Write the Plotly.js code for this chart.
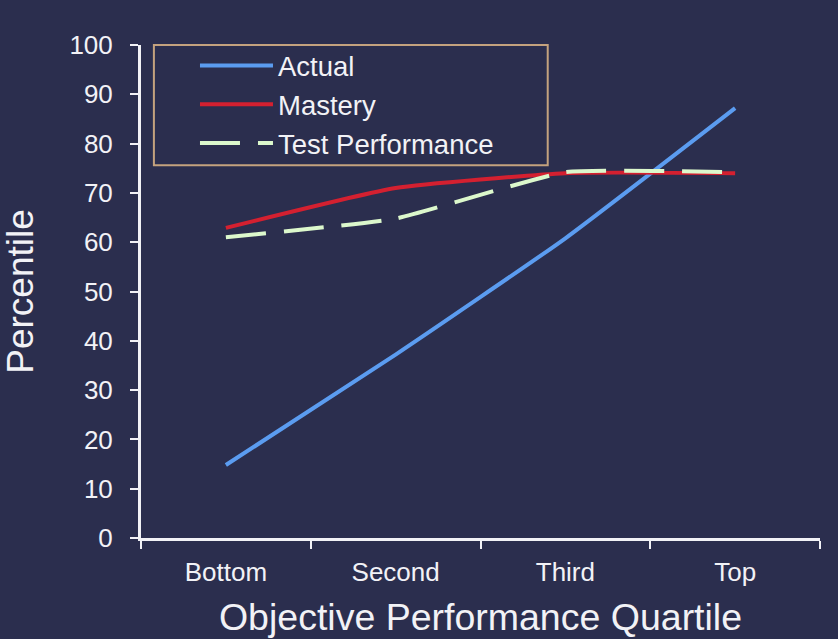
<!DOCTYPE html>
<html>
<head>
<meta charset="utf-8">
<script src="https://cdn.plot.ly/plotly-3.0.1.min.js"></script>
<style>
html,body{margin:0;padding:0;background:#2b2e4e;}
#chart{width:838px;height:639px;}
</style>
</head>
<body>
<div id="chart"></div>
<script>
const categories = ["Bottom", "Second", "Third", "Top"];
const actual = [14.8, 37.2, 60.8, 87.2];
const mastery = [62.9, 71.0, 74.0, 74.0];
const testPerformance = [61.0, 64.8, 74.2, 74.2];
const yTicks = [0, 10, 20, 30, 40, 50, 60, 70, 80, 90, 100];

const FONT = "Liberation Sans, Arial, sans-serif";
const WHITE = "#f2f2f6";

const traces = [
  {x: categories, y: actual, name: "Actual", mode: "lines", type: "scatter",
   line: {color: "#5b9cf0", width: 4, shape: "spline", smoothing: 0.45}},
  {x: categories, y: mastery, name: "Mastery", mode: "lines", type: "scatter",
   line: {color: "#d42030", width: 4, shape: "spline", smoothing: 0.45}},
  {x: categories, y: testPerformance, name: "Test Performance", mode: "lines", type: "scatter",
   line: {color: "#dcf8cc", width: 4, shape: "spline", smoothing: 0.4, dash: "40px,18px"}}
];

const layout = {
  width: 838, height: 639,
  margin: {l: 141, r: 18, t: 45, b: 101},
  paper_bgcolor: "#2b2e4e",
  plot_bgcolor: "#2b2e4e",
  font: {family: FONT, color: WHITE},
  showlegend: true,
  legend: {
    x: 0.0795, y: 1.008, xanchor: "left", yanchor: "top",
    bgcolor: "rgba(0,0,0,0)", borderwidth: 0,
    font: {family: FONT, size: 27.5, color: WHITE},
    itemwidth: 73, tracegroupgap: 0
  },
  xaxis: {
    type: "category",
    range: [-0.5, 3.5],
    tickson: "boundaries",
    ticks: "outside", ticklen: 8, tickwidth: 2, tickcolor: WHITE,
    showline: true, linecolor: WHITE, linewidth: 3,
    showgrid: false, zeroline: false,
    tickfont: {family: FONT, size: 26, color: WHITE},
    ticklabelstandoff: 9,
    title: {text: "Objective Performance Quartile", font: {family: FONT, size: 37.5, color: WHITE}, standoff: 18}
  },
  yaxis: {
    range: [0, 100],
    tickvals: yTicks,
    ticks: "outside", ticklen: 8, tickwidth: 2, tickcolor: WHITE,
    showline: true, linecolor: WHITE, linewidth: 3,
    showgrid: false, zeroline: false,
    tickfont: {family: FONT, size: 26, color: WHITE},
    ticklabelstandoff: 12,
    title: {text: "Percentile", font: {family: FONT, size: 37, color: WHITE}, standoff: 26}
  },
  shapes: [
    {type: "rect", xref: "paper", yref: "paper",
     x0: 0.019, x1: 0.599, y0: 0.756, y1: 1.0,
     line: {color: "#c4a27e", width: 2}, fillcolor: "rgba(0,0,0,0)", layer: "below"}
  ]
};

Plotly.newPlot("chart", traces, layout, {displayModeBar: false, staticPlot: true});
</script>
</body>
</html>
